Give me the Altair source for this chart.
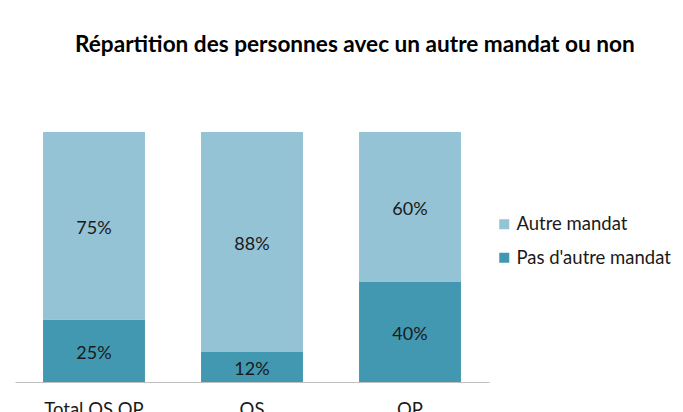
import altair as alt
import pandas as pd

categories = ["Total OS OP", "OS", "OP"]
series = ["Autre mandat", "Pas d'autre mandat"]
autre_mandat = [75, 88, 60]
pas_autre_mandat = [25, 12, 40]
colors = ["#93c3d4", "#4298b0"]

rows = []
for i, c in enumerate(categories):
    rows.append({"category": c, "serie": series[1], "value": pas_autre_mandat[i], "ordre": 0})
    rows.append({"category": c, "serie": series[0], "value": autre_mandat[i], "ordre": 1})
df = pd.DataFrame(rows)

FONT = "Lato"
TXT = "#1a1a1a"

x_enc = alt.X(
    "category:N",
    sort=categories,
    scale=alt.Scale(paddingInner=0.355),
    axis=alt.Axis(
        title=None, labelAngle=0, ticks=False, domainColor="#bfbfbf",
        labelFont=FONT, labelFontSize=18.5, labelPadding=18, labelColor=TXT,
    ),
)

base = alt.Chart(df)

bars = base.mark_bar().encode(
    x=x_enc,
    y=alt.Y("value:Q", stack="zero", scale=alt.Scale(domain=[0, 100]), axis=None),
    color=alt.Color(
        "serie:N",
        scale=alt.Scale(domain=series, range=colors),
        legend=alt.Legend(
            title=None, orient="none", legendX=480, legendY=83,
            symbolType="square", symbolSize=100, symbolStrokeWidth=0,
            labelFont=FONT, labelFontSize=18.5, labelColor=TXT, rowPadding=14.5,
            labelOffset=3,
        ),
    ),
    order=alt.Order("ordre:Q"),
)

labels = (
    base.transform_stack(
        stack="value", groupby=["category"], as_=["v0", "v1"],
        sort=[alt.SortField("ordre")],
    )
    .transform_calculate(mid="(datum.v0 + datum.v1) / 2", label="datum.value + '%'")
    .mark_text(font=FONT, fontSize=18, color=TXT, dy=3)
    .encode(
        x=x_enc,
        y=alt.Y("mid:Q", scale=alt.Scale(domain=[0, 100]), axis=None),
        text="label:N",
    )
)

chart = (
    alt.layer(bars, labels)
    .properties(
        width=474,
        height=250,
        autosize=alt.AutoSizeParams(type="none"),
        padding={"left": 7, "top": 124, "right": 186, "bottom": 40},
        title=alt.TitleParams(
            "Répartition des personnes avec un autre mandat ou non",
            font=FONT, fontSize=22.6, fontWeight="bold", color="#000000",
            anchor="start", dx=60, offset=75,
        ),
    )
    .configure_view(stroke=None)
)

chart.save("out.html", embed_options={"renderer": "svg", "actions": False})
